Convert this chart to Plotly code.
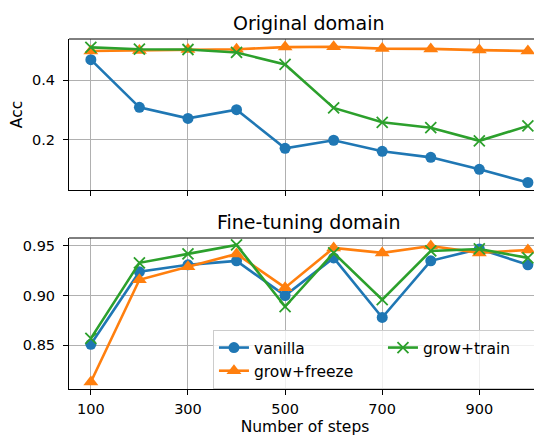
import plotly.graph_objects as go

steps = [100, 200, 300, 400, 500, 600, 700, 800, 900, 1000]

orig_vanilla = [0.468, 0.309, 0.272, 0.301, 0.172, 0.199, 0.162, 0.142, 0.102, 0.058]
orig_freeze = [0.497, 0.499, 0.502, 0.503, 0.510, 0.511, 0.505, 0.504, 0.500, 0.497]
orig_train = [0.509, 0.503, 0.502, 0.492, 0.452, 0.307, 0.259, 0.241, 0.197, 0.247]

ft_vanilla = [0.851, 0.924, 0.931, 0.935, 0.900, 0.938, 0.878, 0.935, 0.947, 0.931]
ft_freeze = [0.813, 0.916, 0.929, 0.942, 0.908, 0.948, 0.943, 0.950, 0.943, 0.946]
ft_train = [0.857, 0.933, 0.942, 0.951, 0.889, 0.943, 0.896, 0.945, 0.947, 0.938]

x_ticks = [100, 300, 500, 700, 900]
top_y_ticks = [0.2, 0.4]
bottom_y_ticks = [0.85, 0.90, 0.95]
bottom_y_labels = ["0.85", "0.90", "0.95"]

series_names = ["vanilla", "grow+freeze", "grow+train"]
colors = ["#1f77b4", "#ff7f0e", "#2ca02c"]
symbols = ["circle", "triangle-up", "x-thin"]
msizes = [11, 13, 11]
ranks = [1, 3, 2]

FONT = "DejaVu Sans"

fig = go.Figure()

orig = [orig_vanilla, orig_freeze, orig_train]
ft = [ft_vanilla, ft_freeze, ft_train]

for i in range(3):
    mk = dict(symbol=symbols[i], size=msizes[i], color=colors[i],
              line=dict(color=colors[i], width=1.8 if symbols[i] == "x-thin" else 0))
    fig.add_trace(go.Scatter(x=steps, y=orig[i], mode="lines+markers", name=series_names[i],
                             line=dict(color=colors[i], width=2.6), marker=mk,
                             xaxis="x", yaxis="y", showlegend=False))
for i in range(3):
    mk = dict(symbol=symbols[i], size=msizes[i], color=colors[i],
              line=dict(color=colors[i], width=1.8 if symbols[i] == "x-thin" else 0))
    fig.add_trace(go.Scatter(x=steps, y=ft[i], mode="lines+markers", name=series_names[i],
                             line=dict(color=colors[i], width=2.6), marker=mk,
                             xaxis="x2", yaxis="y2", showlegend=True, legendrank=ranks[i]))

xcommon = dict(range=[55, 1027], tickvals=x_ticks, showgrid=True, gridcolor="#b0b0b0",
               gridwidth=1, showline=True, linecolor="black", linewidth=1, mirror=False,
               ticks="outside", ticklen=5, tickcolor="black", zeroline=False, automargin=False,
               ticklabelstandoff=2,
               tickfont=dict(family=FONT, size=14.5, color="black"))
ycommon = dict(showgrid=True, gridcolor="#b0b0b0", gridwidth=1, showline=True, linecolor="black",
               linewidth=1, mirror=False, ticks="outside", ticklen=5, tickcolor="black",
               zeroline=False, automargin=False, ticklabelstandoff=5,
               tickfont=dict(family=FONT, size=14.5, color="black"))

# page body has an 8px margin, so the figure is 8px smaller and offsets are reduced by 8
fig.update_layout(
    width=534, height=430,
    margin=dict(l=61, r=1, t=31, b=49, autoexpand=False),
    paper_bgcolor="white", plot_bgcolor="white",
    font=dict(family=FONT, color="black"),
    xaxis=dict(**xcommon, domain=[0, 1], anchor="y", showticklabels=False),
    xaxis2=dict(**xcommon, domain=[0, 1], anchor="y2", showticklabels=True,
                title=dict(text="Number of steps", font=dict(family=FONT, size=15.5), standoff=4)),
    yaxis=dict(**ycommon, domain=[0.5686, 1], range=[0.033, 0.537], tickvals=top_y_ticks,
               ticktext=["0.2", "0.4"],
               title=dict(text="Acc", font=dict(family=FONT, size=15.5), standoff=7), anchor="x"),
    yaxis2=dict(**ycommon, domain=[0, 0.4314], range=[0.806, 0.958], tickvals=bottom_y_ticks,
                ticktext=bottom_y_labels, anchor="x2"),
    legend=dict(orientation="h", x=0.305, y=0.1686, xanchor="left", yanchor="top",
                entrywidth=124, entrywidthmode="pixels",
                bgcolor="rgba(255,255,255,0.8)", bordercolor="#cccccc", borderwidth=1,
                font=dict(family=FONT, size=15.5, color="black"), traceorder="normal",
                tracegroupgap=0, itemwidth=30),
    showlegend=True,
)

# top spines (no right spine: clipped in reference)
fig.add_shape(type="line", xref="paper", yref="paper", x0=0, x1=1, y0=1, y1=1,
              line=dict(color="black", width=1))
fig.add_shape(type="line", xref="paper", yref="paper", x0=0, x1=1, y0=0.4314, y1=0.4314,
              line=dict(color="black", width=1))

fig.add_annotation(text="Original domain", xref="paper", yref="paper", x=0.508, y=1,
                   xanchor="center", yanchor="bottom", yshift=3, showarrow=False,
                   font=dict(family=FONT, size=19, color="black"))
fig.add_annotation(text="Fine-tuning domain", xref="paper", yref="paper", x=0.508, y=0.4314,
                   xanchor="center", yanchor="bottom", yshift=3, showarrow=False,
                   font=dict(family=FONT, size=19, color="black"))

fig.write_html("out.html")
